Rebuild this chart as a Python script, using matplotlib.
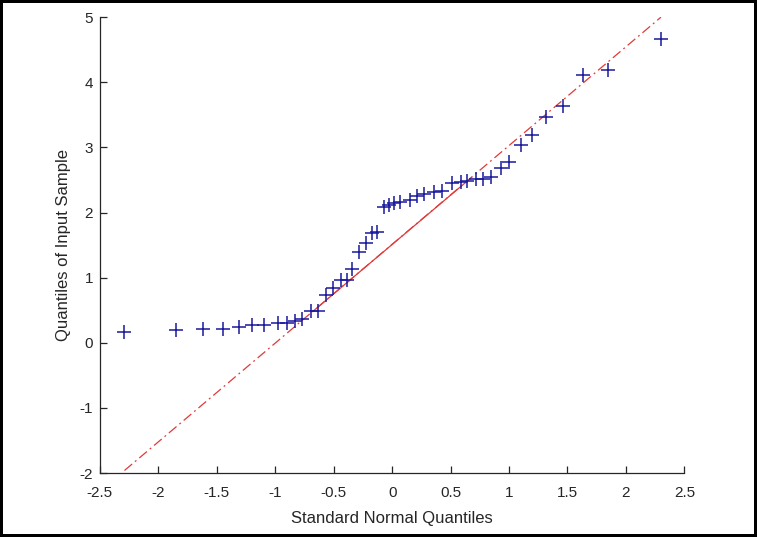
#importing libraries
import matplotlib
matplotlib.use("Agg")
import matplotlib.pyplot as plt
from matplotlib.ticker import FormatStrFormatter, MultipleLocator

plt.rcParams['font.family'] = ['Liberation Sans', 'DejaVu Sans']
plt.rcParams['axes.unicode_minus'] = False

#theoretical quantiles (x) and sample quantiles (y)
normal_q = [-2.29, -1.85, -1.62, -1.45, -1.31, -1.20, -1.10, -0.98, -0.90, -0.83,
            -0.77, -0.69, -0.63, -0.57, -0.51, -0.44, -0.39, -0.34, -0.28, -0.22,
            -0.17, -0.13, -0.07, -0.03, 0.02, 0.07, 0.15, 0.21, 0.27, 0.36,
            0.43, 0.51, 0.59, 0.64, 0.72, 0.78, 0.85, 0.93, 1.00, 1.10,
            1.20, 1.32, 1.46, 1.63, 1.85, 2.30]
sample_q = [0.17, 0.19, 0.21, 0.21, 0.25, 0.27, 0.28, 0.31, 0.31, 0.34,
            0.36, 0.49, 0.49, 0.73, 0.84, 0.96, 0.97, 1.14, 1.40, 1.53,
            1.68, 1.70, 2.09, 2.11, 2.14, 2.16, 2.19, 2.25, 2.29, 2.31,
            2.33, 2.45, 2.47, 2.49, 2.51, 2.51, 2.54, 2.68, 2.78, 3.03,
            3.19, 3.47, 3.64, 4.11, 4.19, 4.66]

#reference line through the quartiles: solid part and dash-dot extension
line_full_x = [-2.29, 2.30]
line_full_y = [-1.96, 5.00]
line_mid_x = [-0.68, 0.68]
line_mid_y = [0.48, 2.54]

x_ticks = [-2.5, -2, -1.5, -1, -0.5, 0, 0.5, 1, 1.5, 2, 2.5]

text_col = '#262626'

fig = plt.figure(figsize=(7.57, 5.37), dpi=100)
fig.patch.set_edgecolor('black')
fig.patch.set_linewidth(3)
ax = fig.add_axes([0.132, 0.119, 0.772, 0.849])

ax.plot(line_full_x, line_full_y, color='#e03a3a', linestyle=(0, (8, 3, 1.5, 3)), linewidth=0.9)
ax.plot(line_mid_x, line_mid_y, color='#e03a3a', linestyle='-', linewidth=0.9)
ax.plot(normal_q, sample_q, linestyle='none', marker='+', markersize=10,
        markeredgewidth=1.1, color='#1a1a9c')

ax.set_xlim(-2.5, 2.5)
ax.set_ylim(-2, 5)
ax.set_xticks(x_ticks)
ax.yaxis.set_major_locator(MultipleLocator(1))
ax.xaxis.set_major_formatter(FormatStrFormatter('%g'))
ax.yaxis.set_major_formatter(FormatStrFormatter('%g'))

for side in ['top', 'right']:
    ax.spines[side].set_visible(False)
for side in ['left', 'bottom']:
    ax.spines[side].set_color(text_col)
    ax.spines[side].set_linewidth(0.9)
ax.tick_params(direction='in', length=5, width=0.9, color=text_col,
               labelcolor=text_col, labelsize=11)
ax.tick_params(axis='x', pad=9)
ax.tick_params(axis='y', pad=5)

ax.set_xlabel('Standard Normal Quantiles', fontsize=12, color=text_col, labelpad=8)
ax.set_ylabel('Quantiles of Input Sample', fontsize=12, color=text_col, labelpad=6)

fig.savefig('out.png', dpi=100, edgecolor=fig.get_edgecolor())
